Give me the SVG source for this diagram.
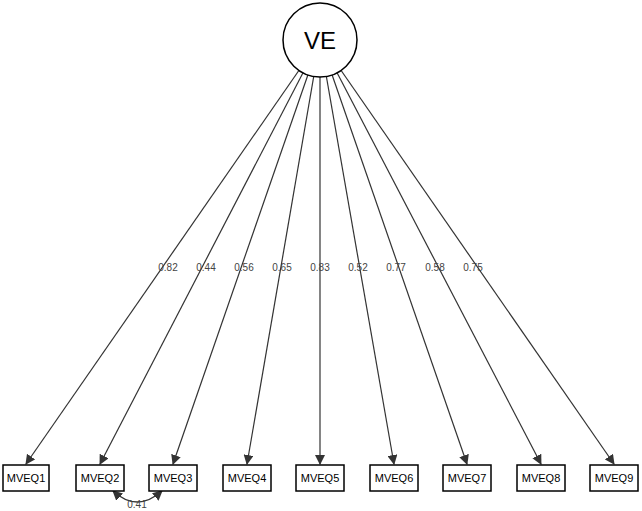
<svg xmlns="http://www.w3.org/2000/svg" width="642" height="511" viewBox="0 0 642 511">
<style>
.e{stroke:#333;stroke-width:1.2;fill:none}
.b{fill:#fff;stroke:#000;stroke-width:1.5}
.t{font-family:"Liberation Sans",Arial,sans-serif;font-size:11px;text-anchor:middle;fill:#000}
.l{font-family:"Liberation Sans",Arial,sans-serif;font-size:10px;text-anchor:middle;fill:#444}
</style>
<defs><marker id="a" markerWidth="10" markerHeight="10" refX="9" refY="5" orient="auto" markerUnits="userSpaceOnUse"><path d="M0,0 L10,5 L0,10 z" fill="#333"/></marker>
<marker id="s" markerWidth="10" markerHeight="10" refX="9" refY="5" orient="auto-start-reverse" markerUnits="userSpaceOnUse"><path d="M0,0 L10,5 L0,10 z" fill="#333"/></marker></defs>
<rect width="642" height="511" fill="#fff"/>
<g id="connectors">
<line class="e" x1="320" y1="40" x2="26" y2="464" marker-end="url(#a)"/>
<line class="e" x1="320" y1="40" x2="100" y2="464" marker-end="url(#a)"/>
<line class="e" x1="320" y1="40" x2="173" y2="464" marker-end="url(#a)"/>
<line class="e" x1="320" y1="40" x2="247" y2="464" marker-end="url(#a)"/>
<line class="e" x1="320" y1="40" x2="320" y2="464" marker-end="url(#a)"/>
<line class="e" x1="320" y1="40" x2="394" y2="464" marker-end="url(#a)"/>
<line class="e" x1="320" y1="40" x2="467" y2="464" marker-end="url(#a)"/>
<line class="e" x1="320" y1="40" x2="541" y2="464" marker-end="url(#a)"/>
<line class="e" x1="320" y1="40" x2="614" y2="464" marker-end="url(#a)"/>
<path class="e" d="M113,491 Q137,513 162,491" marker-start="url(#s)" marker-end="url(#a)"/>
<g>
<text class="l" x="168" y="271">0.82</text>
<text class="l" x="206" y="271">0.44</text>
<text class="l" x="244" y="271">0.56</text>
<text class="l" x="282" y="271">0.65</text>
<text class="l" x="320" y="271">0.83</text>
<text class="l" x="358" y="271">0.52</text>
<text class="l" x="396" y="271">0.77</text>
<text class="l" x="435" y="271">0.58</text>
<text class="l" x="473" y="271">0.75</text>
<text class="l" x="137" y="508">0.41</text>
</g>
</g>
<g id="VE"><circle cx="320" cy="40" r="37" fill="#fff" stroke="#000" stroke-width="1.5"/><text class="t" x="320" y="49" style="font-size:24px">VE</text></g>
<g id="MVEQ1"><rect class="b" x="3" y="465" width="46" height="26"/><text class="t" x="26" y="482">MVEQ1</text></g>
<g id="MVEQ2"><rect class="b" x="76" y="465" width="48" height="26"/><text class="t" x="100" y="482">MVEQ2</text></g>
<g id="MVEQ3"><rect class="b" x="149" y="465" width="48" height="26"/><text class="t" x="173" y="482">MVEQ3</text></g>
<g id="MVEQ4"><rect class="b" x="223" y="465" width="48" height="26"/><text class="t" x="247" y="482">MVEQ4</text></g>
<g id="MVEQ5"><rect class="b" x="296" y="465" width="48" height="26"/><text class="t" x="320" y="482">MVEQ5</text></g>
<g id="MVEQ6"><rect class="b" x="370" y="465" width="48" height="26"/><text class="t" x="394" y="482">MVEQ6</text></g>
<g id="MVEQ7"><rect class="b" x="443" y="465" width="48" height="26"/><text class="t" x="467" y="482">MVEQ7</text></g>
<g id="MVEQ8"><rect class="b" x="517" y="465" width="48" height="26"/><text class="t" x="541" y="482">MVEQ8</text></g>
<g id="MVEQ9"><rect class="b" x="590" y="465" width="48" height="26"/><text class="t" x="614" y="482">MVEQ9</text></g>
</svg>
